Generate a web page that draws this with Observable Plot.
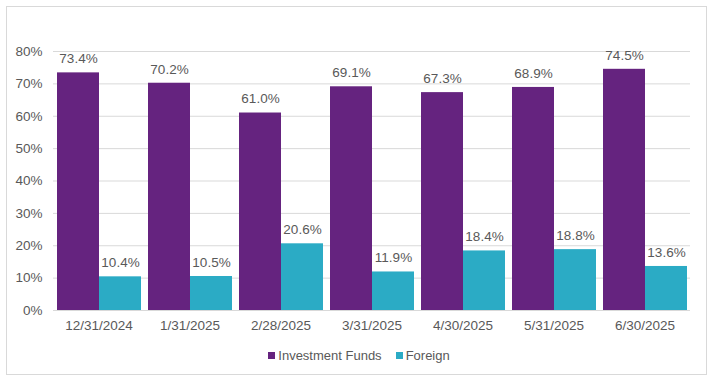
<!DOCTYPE html>
<html>
<head>
<meta charset="utf-8">
<script src="https://cdn.jsdelivr.net/npm/d3@7"></script>
<script src="https://cdn.jsdelivr.net/npm/@observablehq/plot@0.6"></script>
<style>
  body { margin: 0; background: #fff; font-family: "Liberation Sans", Arial, sans-serif; }
  #frame { position: absolute; left: 6px; top: 6px; width: 699px; height: 367px; border: 1px solid #d9d9d9; background: #fff; }
  #legend { position: absolute; top: 341px; left: 12px; width: 680px; text-align: center; font-size: 13px; color: #595959; }
  .sw { display: inline-block; width: 7px; height: 7px; margin-right: 3px; vertical-align: 1px; }
  .item { margin: 0 7px; }
</style>
</head>
<body>
<div id="frame"><div id="chart"></div>
<div id="legend"></div></div>
<script>
const dates = ["12/31/2024", "1/31/2025", "2/28/2025", "3/31/2025", "4/30/2025", "5/31/2025", "6/30/2025"];
const series = ["Investment Funds", "Foreign"];
const investmentFunds = [73.4, 70.2, 61.0, 69.1, 67.3, 68.9, 74.5];
const foreign = [10.4, 10.5, 20.6, 11.9, 18.4, 18.8, 13.6];
const colors = ["#65237f", "#2babc5"];
const yTicks = [0, 10, 20, 30, 40, 50, 60, 70, 80];

const data = [];
dates.forEach((d, i) => {
  data.push({date: d, series: series[0], value: investmentFunds[i]});
  data.push({date: d, series: series[1], value: foreign[i]});
});

const chart = Plot.plot({
  width: 699,
  height: 335,
  marginLeft: 46,
  marginRight: 16,
  marginTop: 44,
  marginBottom: 32,
  style: {fontFamily: "Liberation Sans, Arial, sans-serif", fontSize: "13.5px", color: "#595959", background: "white"},
  fx: {domain: dates, padding: 0, label: null, axis: "bottom", tickSize: 0, tickPadding: 10},
  x: {domain: series, paddingInner: 0, paddingOuter: 0.075, axis: null},
  y: {domain: [0, 80], ticks: yTicks, tickFormat: d => d + "%", label: null, tickSize: 0, tickPadding: 11},
  color: {domain: series, range: colors},
  marks: [
    Plot.ruleY(yTicks, {stroke: "#d9d9d9", strokeWidth: 1}),
    Plot.barY(data, {fx: "date", x: "series", y: "value", fill: "series"}),
    Plot.text(data, {fx: "date", x: "series", y: "value", text: d => d.value.toFixed(1) + "%", dy: -14, fill: "#595959", fontSize: 13.5})
  ]
});
document.getElementById("chart").appendChild(chart);

const legend = document.getElementById("legend");
series.forEach((s, i) => {
  const span = document.createElement("span");
  span.className = "item";
  span.innerHTML = `<span class="sw" style="background:${colors[i]}"></span>${s}`;
  legend.appendChild(span);
});
</script>
</body>
</html>
